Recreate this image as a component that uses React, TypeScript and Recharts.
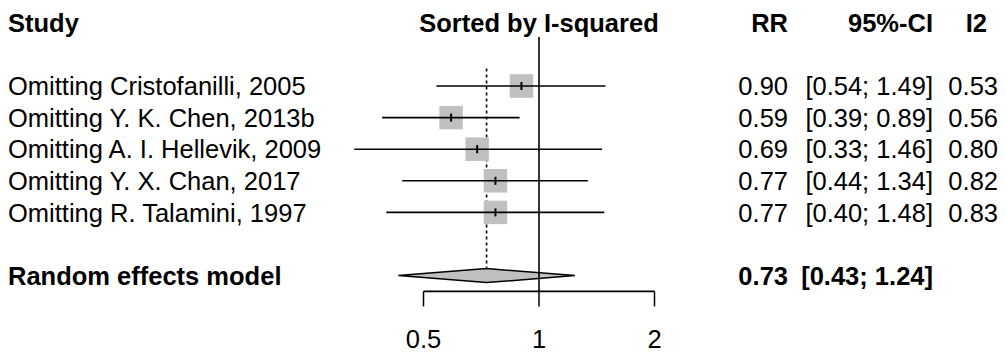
import { Scatter, ScatterChart, XAxis, YAxis } from 'recharts'

const studies = [
  'Omitting Cristofanilli, 2005',
  'Omitting Y. K. Chen, 2013b',
  'Omitting A. I. Hellevik, 2009',
  'Omitting Y. X. Chan, 2017',
  'Omitting R. Talamini, 1997',
]
const rr = [0.9, 0.59, 0.69, 0.77, 0.77]
const lower = [0.54, 0.39, 0.33, 0.44, 0.4]
const upper = [1.49, 0.89, 1.46, 1.34, 1.48]
const i2 = [0.53, 0.56, 0.8, 0.82, 0.83]
const rows = [1, 2, 3, 4, 5]

const pooledLabel = 'Random effects model'
const pooledRR = 0.73
const pooledLower = 0.43
const pooledUpper = 1.24

const headerRow = -1
const pooledRow = 7
const axisRow = 7.5
const xTicks = [0.5, 1, 2]
const yTicks = [headerRow, ...rows, pooledRow]

const FONT = '"Liberation Sans", Arial, sans-serif'
const FS = 25.5

const squares = rows.map((r, i) => ({ x: rr[i], y: r }))
const pooledPoints = [
  { x: pooledLower, y: pooledRow },
  { x: pooledRR, y: pooledRow },
  { x: pooledUpper, y: pooledRow },
]
// reference line x = 1 and dotted line at the pooled estimate
const nullLine = [
  { x: 1, y: -0.55 },
  { x: 1, y: axisRow },
]
const pooledLine = [
  { x: pooledRR, y: 0.45 },
  { x: pooledRR, y: 6.75 },
]
const axisLine = [
  { x: xTicks[0], y: axisRow },
  { x: xTicks[xTicks.length - 1], y: axisRow },
]

const fmt = (v: number) => v.toFixed(2)

const noShape = () => <g />

function Square(props: any) {
  const { cx, cy } = props
  return (
    <g>
      <rect x={cx - 11.75} y={cy - 11.75} width={23.5} height={23.5} fill="#c0c0c0" />
      <line x1={cx} y1={cy - 4} x2={cx} y2={cy + 4} stroke="#000" strokeWidth={2} />
    </g>
  )
}

function Diamond(props: any) {
  const p = props.points
  if (!p || p.length < 3) return <g />
  const h = 7
  const pts = [
    `${p[0].x},${p[0].y}`,
    `${p[1].x},${p[1].y - h}`,
    `${p[2].x},${p[2].y}`,
    `${p[1].x},${p[1].y + h}`,
  ].join(' ')
  return <polygon points={pts} fill="#c0c0c0" stroke="#000" strokeWidth={1.5} />
}

// left labels and the right-hand table columns, one tick per row
function RowTick(props: any) {
  const { y, payload } = props
  const v = payload.value
  if (v === headerRow) {
    return (
      <g fontFamily={FONT} fontSize={FS} fontWeight="bold" fill="#000">
        <text x={8} y={y} dy="0.36em">Study</text>
        <text x={539} y={y} dy="0.36em" textAnchor="middle">Sorted by I-squared</text>
        <text x={788} y={y} dy="0.36em" textAnchor="end">RR</text>
        <text x={933} y={y} dy="0.36em" textAnchor="end">95%-CI</text>
        <text x={987} y={y} dy="0.36em" textAnchor="end">I2</text>
      </g>
    )
  }
  if (v === pooledRow) {
    return (
      <g fontFamily={FONT} fontSize={FS} fontWeight="bold" fill="#000">
        <text x={8} y={y} dy="0.36em">{pooledLabel}</text>
        <text x={788} y={y} dy="0.36em" textAnchor="end">{fmt(pooledRR)}</text>
        <text x={933} y={y} dy="0.36em" textAnchor="end">
          {`[${fmt(pooledLower)}; ${fmt(pooledUpper)}]`}
        </text>
      </g>
    )
  }
  const i = rows.indexOf(v)
  return (
    <g fontFamily={FONT} fontSize={FS} fill="#000">
      <text x={8} y={y} dy="0.36em">{studies[i]}</text>
      <text x={788} y={y} dy="0.36em" textAnchor="end">{fmt(rr[i])}</text>
      <text x={933} y={y} dy="0.36em" textAnchor="end">
        {`[${fmt(lower[i])}; ${fmt(upper[i])}]`}
      </text>
      <text x={998} y={y} dy="0.36em" textAnchor="end">{fmt(i2[i])}</text>
    </g>
  )
}

function XTick(props: any) {
  const { x, y, payload } = props
  return (
    <text x={x} y={y} dy={42} textAnchor="middle" fontFamily={FONT} fontSize={FS} fill="#000">
      {String(payload.value)}
    </text>
  )
}

export default function App() {
  return (
    <div style={{ position: 'absolute', left: 0, top: 0, width: 1006, height: 353, background: '#fff' }}>
      <ScatterChart
        width={1006}
        height={353}
        margin={{ top: 7, right: 236, bottom: 6.6, left: 0 }}
      >
        <XAxis
          type="number"
          dataKey="x"
          scale="log"
          domain={[0.25, 4]}
          ticks={xTicks}
          interval={0}
          axisLine={false}
          tickLine={{ stroke: '#000', strokeWidth: 1.5 }}
          tickSize={15}
          tickMargin={0}
          height={55}
          tick={<XTick />}
        />
        <YAxis
          type="number"
          dataKey="y"
          domain={[-1.5, 7.5]}
          reversed
          ticks={yTicks}
          interval={0}
          width={308}
          axisLine={false}
          tickLine={false}
          tick={<RowTick />}
        />
        <Scatter data={pooledPoints} shape={noShape} line={<Diamond />} isAnimationActive={false} />
        <Scatter
          data={pooledLine}
          shape={noShape}
          line={{ stroke: '#000', strokeWidth: 1.6, strokeDasharray: '3 3' }}
          isAnimationActive={false}
        />
        <Scatter data={squares} shape={<Square />} isAnimationActive={false} />
        {rows.map((r, i) => (
          <Scatter
            key={r}
            data={[
              { x: lower[i], y: r },
              { x: upper[i], y: r },
            ]}
            shape={noShape}
            line={{ stroke: '#000', strokeWidth: 1.6 }}
            isAnimationActive={false}
          />
        ))}
        <Scatter
          data={nullLine}
          shape={noShape}
          line={{ stroke: '#000', strokeWidth: 1.6 }}
          isAnimationActive={false}
        />
        <Scatter
          data={axisLine}
          shape={noShape}
          line={{ stroke: '#000', strokeWidth: 1.6 }}
          isAnimationActive={false}
        />
      </ScatterChart>
    </div>
  )
}
